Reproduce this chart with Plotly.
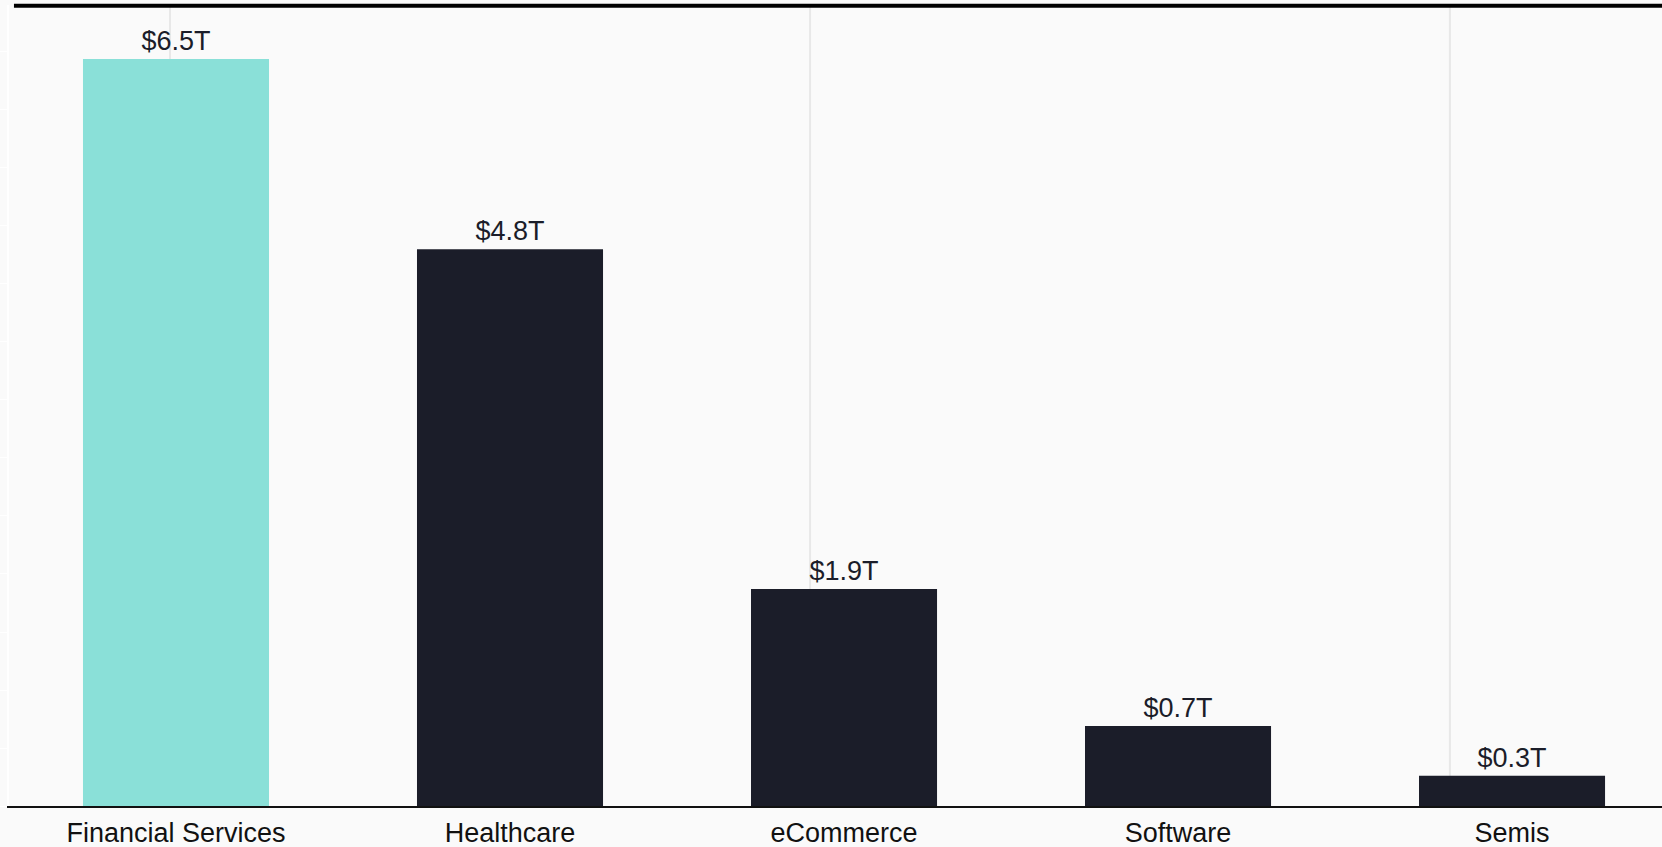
import plotly.graph_objects as go

categories = ["Financial Services", "Healthcare", "eCommerce", "Software", "Semis"]
market_size = [6.44, 4.80, 1.87, 0.69, 0.26]  # $T
labels = ["$6.5T", "$4.8T", "$1.9T", "$0.7T", "$0.3T"]
bar_colors = ["#8ae0d8", "#1b1d29", "#1b1d29", "#1b1d29", "#1b1d29"]

FONT = "Liberation Sans, Arial, sans-serif"

fig = go.Figure()
fig.add_trace(go.Bar(
    x=categories, y=market_size,
    text=labels, textposition="outside", cliponaxis=False,
    textfont=dict(size=27, color="#1b1d29", family=FONT),
    marker=dict(color=bar_colors, line=dict(width=0)),
    hoverinfo="skip",
))

# faint vertical guides + heavy top rule
for gx in [0.0974, 0.4846, 0.8717]:
    fig.add_shape(type="line", xref="paper", yref="paper", x0=gx, x1=gx, y0=0, y1=1,
                  line=dict(color="#e8e8e8", width=2), layer="below")
fig.add_shape(type="line", xref="paper", yref="paper", x0=0.003, x1=1, y0=0.999, y1=0.999,
              line=dict(color="#000000", width=4))

fig.update_layout(
    width=1662, height=847,
    paper_bgcolor="#fafafa", plot_bgcolor="#fafafa",
    margin=dict(l=9, r=0, t=5, b=41),
    bargap=0.443,
    showlegend=False,
    font=dict(family=FONT, size=27, color="#111111"),
    xaxis=dict(range=[-0.5, 4.449], showgrid=False, showline=True, linecolor="#111111",
               linewidth=1.5, ticks="", ticklabelstandoff=2,
               tickfont=dict(size=27, color="#111111")),
    yaxis=dict(range=[0, 6.905], dtick=0.5, showgrid=False, zeroline=False,
               showticklabels=False, ticks="outside", ticklen=8, tickcolor="#ffffff",
               showline=True, linecolor="#ffffff", linewidth=2),
)

fig.write_html(
    "out.html",
    config={"displayModeBar": False},
    post_script="document.body.style.margin='0';document.body.style.overflow='hidden';",
)
